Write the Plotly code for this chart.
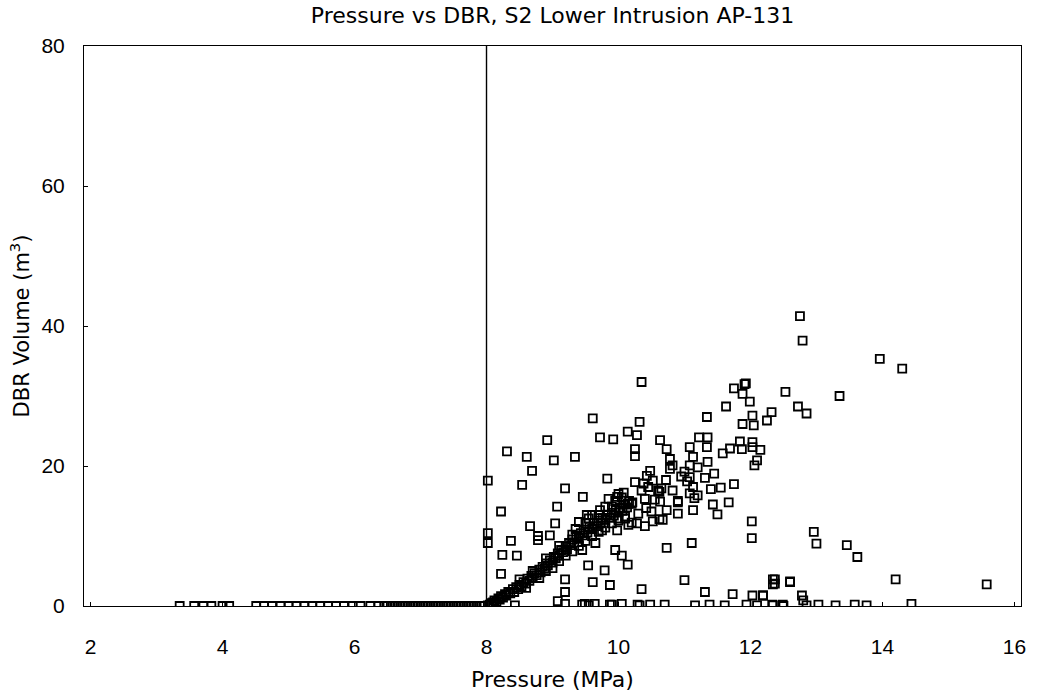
import plotly.graph_objects as go

TITLE = "Pressure vs DBR, S2 Lower Intrusion AP-131"
X_TITLE = "Pressure (MPa)"
Y_TITLE = "DBR Volume (m<sup>3</sup>)"
X_TICKS = [2, 4, 6, 8, 10, 12, 14, 16]
Y_TICKS = [0, 20, 40, 60, 80]
THRESHOLD_P = 8.0

# points on the zero-volume line below ~8 MPa
zero_low_p = [3.35, 3.57, 3.71, 3.83, 4.0, 4.1,
              4.51, 4.63, 4.75, 4.88, 5.0, 5.12, 5.24, 5.36, 5.48, 5.6, 5.72, 5.84, 5.97, 6.09, 6.24, 6.36,
              6.45, 6.5, 6.55, 6.6, 6.65, 6.7, 6.75, 6.8, 6.85, 6.9, 6.95, 7.0, 7.05, 7.1, 7.15, 7.2,
              7.25, 7.3, 7.35, 7.4, 7.45, 7.5, 7.55, 7.6, 7.65, 7.7, 7.75, 7.8, 7.85, 7.9, 7.95]
zero_low_v = [0.0, 0.0, 0.0, 0.0, 0.0, 0.0,
              0.0, 0.0, 0.0, 0.0, 0.0, 0.0, 0.0, 0.0, 0.0, 0.0, 0.0, 0.0, 0.0, 0.0, 0.0, 0.0,
              0.0, 0.0, 0.0, 0.0, 0.0, 0.0, 0.0, 0.0, 0.0, 0.0, 0.0, 0.0, 0.0, 0.0, 0.0, 0.0,
              0.0, 0.0, 0.0, 0.0, 0.0, 0.0, 0.0, 0.0, 0.0, 0.0, 0.0, 0.0, 0.0, 0.0, 0.0]

# near-zero points above 8 MPa
zero_high_p = [8.43, 9.19, 9.45, 9.49, 9.55, 9.64, 9.87, 9.9, 10.05, 10.29, 10.32, 10.48, 10.7,
               11.16, 11.38, 11.61, 11.94, 12.1, 12.33, 12.34, 12.49, 12.5, 12.85, 13.03, 13.29,
               13.58, 13.76]
zero_high_v = [0.1, 0.3, 0.2, 0.3, 0.1, 0.3, 0.2, 0.2, 0.3, 0.2, 0.1, 0.2, 0.2,
               0.1, 0.2, 0.1, 0.2, 0.1, 0.2, 0.1, 0.2, 0.0, 0.1, 0.2, 0.1,
               0.2, 0.1]

# dense rising band from 8 MPa
band_p = [8.02, 8.05, 8.08, 8.1, 8.12, 8.15, 8.18, 8.2, 8.22, 8.25, 8.28, 8.3, 8.33, 8.36, 8.4,
          8.42, 8.45, 8.48, 8.5, 8.53, 8.56, 8.6, 8.62, 8.65, 8.68, 8.7, 8.73, 8.76, 8.8, 8.82,
          8.85, 8.88, 8.9, 8.93, 8.96, 9.0, 9.02, 9.05, 9.08, 9.1, 9.13, 9.16, 9.2, 9.22, 9.25,
          9.28, 9.3, 9.33, 9.36, 9.4, 9.43, 9.46, 9.5, 9.53, 9.56, 9.6, 9.63, 9.66, 9.7, 9.73,
          9.76, 9.8, 9.83, 9.86, 9.9, 9.93, 9.96, 10.0, 10.03, 10.06, 10.1, 10.13, 10.16, 10.2,
          10.0, 9.9, 9.95, 10.05, 10.1, 9.7, 9.5, 9.3, 9.1, 8.9, 9.6, 9.8, 10.0, 9.4, 9.75, 9.85]
band_v = [0.1, 0.2, 0.4, 0.5, 0.8, 0.6, 1.1, 0.9, 1.4, 1.2, 1.7, 1.5, 2.0, 1.8, 2.4,
          2.0, 2.7, 2.4, 3.0, 2.8, 3.4, 3.2, 3.9, 3.6, 4.3, 4.0, 4.7, 4.4, 5.2, 4.8,
          5.6, 5.3, 6.1, 5.8, 6.5, 6.2, 7.0, 6.8, 7.5, 7.2, 8.0, 7.7, 8.5, 8.1, 9.0,
          8.7, 9.5, 9.1, 10.0, 9.6, 10.4, 10.1, 10.9, 10.5, 11.3, 11.0, 11.8, 11.4, 12.2, 11.8,
          12.6, 12.3, 13.0, 12.6, 13.3, 12.9, 13.7, 13.4, 14.0, 13.6, 14.5, 14.1, 15.0, 14.6,
          12.2, 11.8, 15.0, 15.5, 12.5, 10.6, 9.3, 7.8, 6.4, 5.0, 13.0, 14.2, 16.0, 12.0, 10.8, 15.3]

# points along the edges of the band
band_edge_p = [8.5, 8.6, 8.7, 8.8, 8.9, 9.0, 9.1, 9.2, 9.3, 9.4,
               9.5, 9.6, 9.7, 9.8, 9.9, 10.0, 9.35, 9.55, 9.65, 9.45]
band_edge_v = [3.8, 2.6, 5.0, 4.0, 6.8, 5.4, 8.6, 7.2, 10.2, 8.6,
               11.8, 10.0, 13.0, 11.2, 14.2, 12.5, 11.0, 12.5, 9.0, 8.0]

# scattered points
scatter_p = [12.75, 12.79, 13.96, 14.3, 12.53, 13.35, 12.72, 12.85, 12.32, 12.25,
             12.96, 13.0, 13.46, 13.62, 12.37, 12.37, 12.6, 14.2, 15.58, 12.19, 12.78, 12.8, 14.44,
             10.35, 9.61, 10.32, 11.91, 11.75, 11.88, 11.99, 11.63, 12.03, 11.88, 12.05, 11.34,
             8.92, 9.72, 9.92, 10.14, 10.28, 10.63, 10.73, 8.31, 8.61, 9.02, 9.34, 10.25, 10.25,
             11.08, 11.22, 11.35, 11.34, 11.58, 11.69, 11.84, 11.87, 12.03, 12.03, 12.06, 11.13,
             11.35, 10.78, 10.82, 11.08, 8.02, 8.69, 8.54, 9.19, 9.83, 10.25, 10.48, 10.43, 10.52,
             10.35, 10.6, 10.78, 11.08, 11.31, 11.13, 10.82, 11.08, 9.46, 8.22, 9.07, 8.66, 8.78,
             8.96, 9.04, 9.52, 9.72, 9.98, 10.14, 10.63, 10.73, 10.9, 11.13, 11.43, 11.5, 11.67,
             12.02, 12.02, 8.02, 8.02, 8.37, 10.73, 11.11, 10.4, 10.28, 10.52, 10.67,
             8.24, 8.46, 8.22, 8.78, 9.54, 9.61, 9.87, 9.79, 9.95, 10.05, 10.14, 9.19, 9.19, 9.08,
             10.35, 11.93, 11.0, 11.31, 11.73, 12.03, 12.19, 12.34, 12.34, 12.6,
             10.21, 10.38, 10.72, 10.95, 11.04, 11.2, 10.55, 10.62, 10.9, 11.0, 10.1, 10.3,
             10.4, 10.45, 10.5, 10.15, 10.2, 9.98, 10.08, 10.42, 10.62, 10.65, 10.9, 11.15, 11.2,
             11.4, 11.45, 11.55, 11.75, 12.1, 12.15]
scatter_v = [41.4, 37.9, 35.3, 33.9, 30.6, 30.0, 28.5, 27.5, 27.7, 26.5,
             10.6, 8.9, 8.7, 7.0, 3.8, 3.2, 3.5, 3.8, 3.1, 1.5, 1.5, 0.8, 0.3,
             32.0, 26.8, 26.3, 31.7, 31.1, 30.3, 29.2, 28.5, 27.2, 26.0, 25.8, 27.0,
             23.7, 24.1, 23.8, 24.9, 24.4, 23.7, 22.4, 22.1, 21.3, 20.8, 21.3, 22.4, 21.4,
             22.7, 24.1, 24.1, 22.7, 21.8, 22.5, 23.5, 22.4, 23.4, 22.7, 20.1, 21.3,
             20.6, 21.0, 20.1, 20.1, 17.9, 19.3, 17.3, 16.8, 18.2, 17.7, 19.3, 18.6, 17.9,
             16.5, 16.5, 19.6, 18.4, 18.3, 17.0, 16.5, 16.1, 15.6, 13.5, 14.2, 11.4, 10.0,
             10.1, 11.8, 13.0, 13.7, 15.6, 14.6, 14.9, 13.7, 13.2, 13.7, 14.5, 13.1, 14.8,
             12.1, 9.7, 10.4, 9.0, 9.3, 8.3, 9.0, 11.4, 11.8, 12.1, 12.3,
             7.3, 7.2, 4.6, 9.4, 5.8, 3.4, 3.0, 5.1, 8.0, 7.2, 5.9, 3.8, 2.0, 0.7,
             2.4, 31.8, 3.7, 2.0, 1.7, 1.5, 1.5, 3.8, 3.1, 3.4,
             14.8, 17.5, 18.0, 18.5, 17.8, 15.8, 15.2, 16.3, 15.0, 19.2, 12.8, 13.2,
             15.3, 17.0, 13.5, 11.6, 11.9, 10.8, 16.2, 14.0, 12.4, 16.8, 14.8, 15.4, 19.8,
             16.7, 18.9, 16.9, 17.4, 20.8, 22.3]

pressure = zero_low_p + zero_high_p + band_p + band_edge_p + scatter_p
volume = zero_low_v + zero_high_v + band_v + band_edge_v + scatter_v

TICK_FONT = "Liberation Sans, Arial, Helvetica, sans-serif"
TEXT_FONT = "DejaVu Sans, Verdana, sans-serif"

fig = go.Figure()
fig.add_trace(go.Scatter(
    x=pressure, y=volume, mode="markers",
    marker=dict(symbol="square-open", size=8, color="black", line=dict(width=1.8, color="black")),
    showlegend=False,
))

fig.add_shape(type="line", xref="x", yref="y", x0=THRESHOLD_P, x1=THRESHOLD_P,
              y0=Y_TICKS[0], y1=Y_TICKS[-1], line=dict(color="black", width=1.4))

fig.update_layout(
    width=1039, height=700,
    paper_bgcolor="white", plot_bgcolor="white",
    margin=dict(l=84, r=18, t=46, b=86),
    font=dict(family=TICK_FONT, size=21, color="black"),
    title=dict(text=TITLE, x=0.5, xref="paper", xanchor="center", y=1 - 15 / 700, yanchor="middle",
               font=dict(family=TEXT_FONT, size=22, color="black")),
)
fig.update_xaxes(
    range=[1.9, 16.1], tickvals=X_TICKS, ticks="inside", ticklen=4, tickcolor="black",
    showgrid=False, zeroline=False, showline=True, linecolor="black", linewidth=1, mirror=True,
    title=dict(text=X_TITLE, font=dict(family=TEXT_FONT, size=22), standoff=14),
    tickfont=dict(size=21), ticklabelstandoff=22,
)
fig.update_yaxes(
    range=[0, 80], tickvals=Y_TICKS, ticks="inside", ticklen=4, tickcolor="black",
    showgrid=False, zeroline=False, showline=True, linecolor="black", linewidth=1, mirror=True,
    title=dict(text=Y_TITLE, font=dict(family=TEXT_FONT, size=21), standoff=6),
    tickfont=dict(size=21), ticklabelstandoff=14,
)

fig.write_html("out.html", config={"displayModeBar": False},
               post_script="document.body.style.margin='0';")
